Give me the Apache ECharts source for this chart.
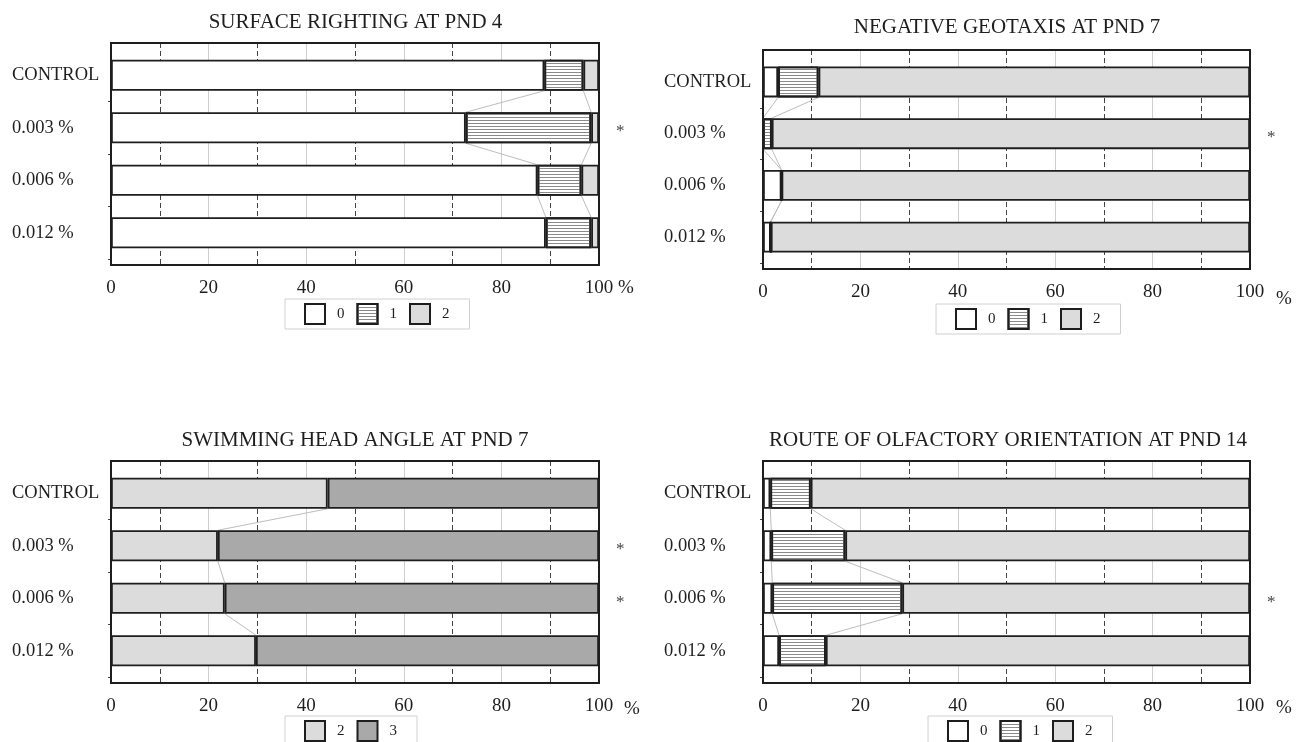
<!DOCTYPE html>
<html>
<head>
<meta charset="utf-8">
<script src="https://cdn.jsdelivr.net/npm/echarts@6/dist/echarts.min.js"></script>
<style>
html,body{margin:0;padding:0;background:#fff;}
#chart{width:1303px;height:742px;}
</style>
</head>
<body>
<div id="chart"></div>
<script>
// ---------------- data ----------------
const categories = ['CONTROL', '0.003 %', '0.006 %', '0.012 %'];
const panelTitles = [
  'SURFACE RIGHTING AT PND 4',
  'NEGATIVE GEOTAXIS AT PND 7',
  'SWIMMING HEAD ANGLE AT PND 7',
  'ROUTE OF OLFACTORY ORIENTATION AT PND 14'
];
const axisUnit = '%';

// surface righting (scores 0,1,2), % of pups
const surfaceScore0 = [88.8, 72.7, 87.4, 89.1];
const surfaceScore1 = [8.0, 25.7, 9.0, 9.3];
const surfaceScore2 = [3.2, 1.6, 3.6, 1.6];
const surfaceSignif = [false, true, false, false];

// negative geotaxis (scores 0,1,2)
const geotaxisScore0 = [3.1, 0, 3.8, 1.6];
const geotaxisScore1 = [8.3, 1.8, 0, 0];
const geotaxisScore2 = [88.6, 98.2, 96.2, 98.4];
const geotaxisSignif = [false, true, false, false];

// swimming head angle (scores 2,3)
const headScore2 = [44.4, 21.9, 23.3, 29.7];
const headScore3 = [55.6, 78.1, 76.7, 70.3];
const headSignif = [false, true, true, false];

// olfactory orientation (scores 0,1,2)
const olfScore0 = [1.5, 1.7, 1.9, 3.3];
const olfScore1 = [8.3, 15.2, 26.7, 9.6];
const olfScore2 = [90.2, 83.1, 71.4, 87.1];
const olfSignif = [false, false, true, false];

const panelSeries = [
  {names: ['0', '1', '2'], values: [surfaceScore0, surfaceScore1, surfaceScore2], signif: surfaceSignif},
  {names: ['0', '1', '2'], values: [geotaxisScore0, geotaxisScore1, geotaxisScore2], signif: geotaxisSignif},
  {names: ['2', '3'], values: [headScore2, headScore3], signif: headSignif},
  {names: ['0', '1', '2'], values: [olfScore0, olfScore1, olfScore2], signif: olfSignif}
];

// ---------------- layout & style ----------------
const FONT = '"Liberation Serif", "Times New Roman", serif';
const INK = '#1e1e1e';
const layout = [
  {L: 111, T: 43, W: 488, H: 222, labelX: 12, tx: 355.5, ty: 22.5, lgL: 285, lgT: 299, pctGap: 19, pctDrop: 23},
  {L: 763, T: 50, W: 487, H: 219, labelX: 664, tx: 1007, ty: 27.5, lgL: 936, lgT: 304, pctGap: 26, pctDrop: 30},
  {L: 111, T: 461, W: 488, H: 222, labelX: 12, tx: 355, ty: 440, lgL: 285, lgT: 716, pctGap: 25, pctDrop: 26},
  {L: 763, T: 461, W: 487, H: 222, labelX: 664, tx: 1008, ty: 440.5, lgL: 928, lgT: 716, pctGap: 26, pctDrop: 25}
];
const INSET = 6;
const BAR_H = 31;

const hatch = {symbol: 'rect', symbolSize: 1, dashArrayX: [1, 0], dashArrayY: [1, 2], rotation: 0, color: '#8a8a8a'};
const scoreStyle = {
  '0': {color: '#ffffff'},
  '1': {color: '#ffffff', decal: hatch},
  '2': {color: '#dcdcdc'},
  '3': {color: '#a9a9a9'}
};

const grids = [], xAxes = [], yAxes = [], series = [], legends = [], graphics = [];

layout.forEach((g, p) => {
  const band = (g.H - 2 * INSET) / 4;
  const half = (BAR_H / 2) / band;
  // frame grid
  grids.push({left: g.L, top: g.T, width: g.W, height: g.H, show: true,
    borderColor: INK, borderWidth: 2, backgroundColor: 'transparent', z: 3});
  // bar grid
  grids.push({left: g.L, top: g.T + INSET, width: g.W, height: g.H - 2 * INSET});

  const fg = 2 * p, bg = 2 * p + 1;
  // solid x axis with labels (interval 20)
  xAxes.push({type: 'value', gridIndex: fg, min: 0, max: 100, interval: 20, position: 'bottom',
    axisLine: {show: false},
    axisTick: {show: true, length: 4, lineStyle: {color: INK, width: 1.5}},
    axisLabel: {fontFamily: FONT, fontSize: 19, color: INK, margin: 14},
    splitLine: {show: true, lineStyle: {color: '#cfcfcf', width: 1}}
  });
  // dashed x axis (odd tens)
  xAxes.push({type: 'value', gridIndex: fg, min: 0, max: 100, interval: 10, position: 'bottom',
    axisLine: {show: false}, axisTick: {show: false}, axisLabel: {show: false},
    splitLine: {show: true, lineStyle: {color: ['rgba(0,0,0,0)', '#444'], type: [5, 3], width: 1}}
  });
  // hidden x axis for bars
  xAxes.push({type: 'value', gridIndex: bg, min: 0, max: 100, show: false});
  // frame y (category units)
  yAxes.push({type: 'value', gridIndex: fg, inverse: true,
    min: -0.5 - INSET / band, max: 3.5 + INSET / band, show: false, splitLine: {show: false}});
  // bars y
  yAxes.push({type: 'category', gridIndex: bg, data: categories, inverse: true,
    axisLine: {show: false},
    axisTick: {show: true, length: 3, interval: (i) => i > 0, lineStyle: {color: '#444'}},
    axisLabel: {align: 'left', margin: g.L - g.labelX, fontFamily: FONT, fontSize: 18.5, color: INK,
      padding: [4, 0, 0, 0]},
    splitLine: {show: false}
  });

  const ps = panelSeries[p];
  const xa = 3 * p, xaBar = 3 * p + 2, ya = 2 * p, yaBar = 2 * p + 1;
  ps.values.forEach((vals, k) => {
    const name = ps.names[k];
    const isLast = k === ps.values.length - 1;
    series.push({
      type: 'bar', name: name, stack: 'panel' + p, barWidth: BAR_H,
      xAxisIndex: xaBar, yAxisIndex: yaBar, data: vals, z: 2, silent: true,
      itemStyle: Object.assign({borderColor: INK, borderWidth: 1.8}, scoreStyle[name]),
      label: isLast ? {show: true, position: 'right', distance: 17, offset: [0, 4],
        formatter: (prm) => ps.signif[prm.dataIndex] ? '*' : '',
        fontFamily: FONT, fontSize: 17, color: '#444'} : {show: false}
    });
  });
  // connecting lines between cumulative boundaries
  for (let k = 0; k < ps.values.length - 1; k++) {
    const pts = [];
    for (let i = 0; i < categories.length; i++) {
      let cum = 0;
      for (let j = 0; j <= k; j++) cum += ps.values[j][i];
      if (i > 0) pts.push([cum, i - half]);
      if (i < categories.length - 1) pts.push([cum, i + half]);
    }
    series.push({type: 'line', xAxisIndex: xa, yAxisIndex: ya, data: pts, symbol: 'none',
      silent: true, z: 1, lineStyle: {color: '#bdbdbd', width: 1}});
  }
  legends.push({data: ps.names, left: g.lgL, top: g.lgT, orient: 'horizontal',
    icon: 'rect', itemWidth: 20, itemHeight: 20, itemGap: 12,
    padding: [4, 20, 4, 19], borderColor: '#d0d0d0', borderWidth: 1,
    itemStyle: {borderColor: INK, borderWidth: 2},
    textStyle: {fontFamily: FONT, fontSize: 15, color: INK, padding: [0, 0, 0, 7]},
    selectedMode: false});
  graphics.push({type: 'text', x: g.tx, y: g.ty, silent: true,
    style: {text: panelTitles[p], fontFamily: FONT, fontSize: 21, fill: INK, align: 'center', verticalAlign: 'middle'}});
  graphics.push({type: 'text', x: g.L + g.W + g.pctGap, y: g.T + g.H + g.pctDrop, silent: true,
    style: {text: axisUnit, fontFamily: FONT, fontSize: 19, fill: INK, align: 'left', verticalAlign: 'middle'}});
});

const chart = echarts.init(document.getElementById('chart'), null, {renderer: 'canvas'});
chart.setOption({
  animation: false,
  backgroundColor: '#ffffff',
  grid: grids,
  xAxis: xAxes,
  yAxis: yAxes,
  legend: legends,
  graphic: graphics,
  series: series
});
</script>
</body>
</html>
